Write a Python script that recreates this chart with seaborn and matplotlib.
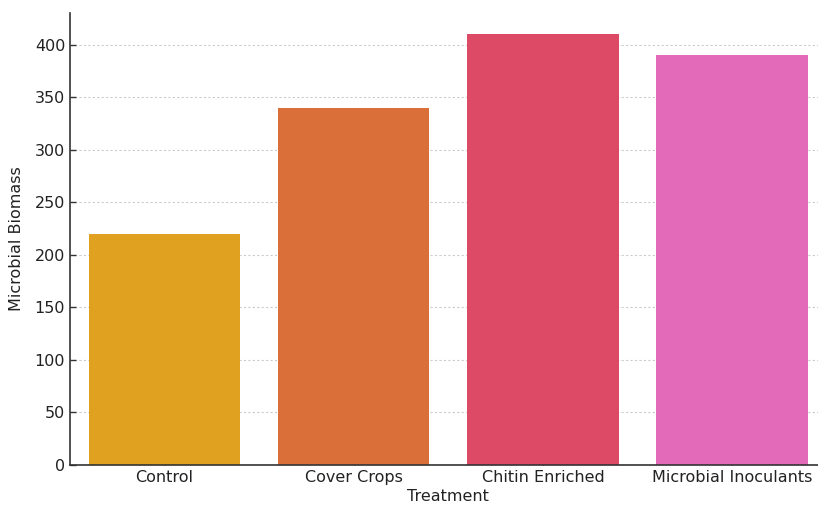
import matplotlib
matplotlib.use("Agg")
import matplotlib.pyplot as plt
import seaborn as sns
import pandas as pd

treatments = ["Control", "Cover Crops", "Chitin Enriched", "Microbial Inoculants"]
biomass = [220, 340, 410, 390]
bar_colors = ["#DFA11F", "#DA6F3A", "#DC4A66", "#E36AB8"]

sns.set_theme(style="white")
plt.rcParams["font.family"] = ["DejaVu Sans"]

df = pd.DataFrame({"Treatment": treatments, "Microbial Biomass": biomass})

fig = plt.figure(figsize=(8.18, 5.12), dpi=100)
ax = fig.add_axes([0.0856, 0.0918, 0.925, 0.883])

sns.barplot(data=df, x="Treatment", y="Microbial Biomass", hue="Treatment",
            palette=bar_colors, legend=False, width=0.8, ax=ax, saturation=1,
            linewidth=0)

ax.set_ylim(0, 430.5)
ax.set_xlim(-0.5, 3.5)
ax.yaxis.grid(True, linestyle=(0, (2, 2)), color="#cccccc", linewidth=0.8)
ax.set_axisbelow(True)
for side in ("top", "right"):
    ax.spines[side].set_visible(False)
for side in ("left", "bottom"):
    ax.spines[side].set_color("#333333")
    ax.spines[side].set_linewidth(1.2)
ax.tick_params(axis="both", direction="in", length=4, width=1, color="#333333",
               labelsize=11.5, labelcolor="#222222", bottom=True, left=True)
ax.set_xlabel("Treatment", fontsize=11.5, color="#222222", labelpad=3)
ax.set_ylabel("Microbial Biomass", fontsize=11.5, color="#222222", labelpad=8)

fig.savefig("out.png", dpi=100)
